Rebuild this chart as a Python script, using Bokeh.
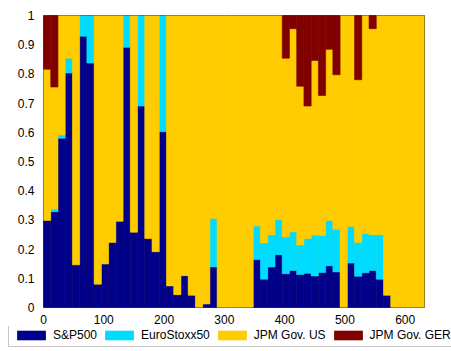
from bokeh.plotting import figure
from bokeh.layouts import column
from bokeh.models import (ColumnDataSource, Legend, LegendItem, FixedTicker,
                          NumeralTickFormatter, Range1d)
from bokeh.embed import file_html
from bokeh.resources import INLINE

# ---- data (portfolio weights per period) ----
bar_step = 12
sp500 = [0.298, 0.328, 0.580, 0.803, 0.146, 0.929, 0.837, 0.080, 0.149, 0.223,
         0.295, 0.891, 0.258, 0.690, 0.236, 0.191, 0.602, 0.074, 0.044, 0.109,
         0.042, 0.000, 0.012, 0.139, 0.000, 0.000, 0.000, 0.000, 0.000, 0.164,
         0.097, 0.139, 0.181, 0.116, 0.127, 0.113, 0.117, 0.108, 0.120, 0.143,
         0.122, 0.000, 0.152, 0.107, 0.119, 0.127, 0.097, 0.042, 0.000, 0.000,
         0.000, 0.000, 0.000]
eurostoxx50 = [0.000, 0.009, 0.011, 0.051, 0.000, 0.071, 0.163, 0.000, 0.000, 0.000,
               0.000, 0.109, 0.000, 0.310, 0.000, 0.000, 0.398, 0.000, 0.000, 0.000,
               0.000, 0.000, 0.000, 0.166, 0.000, 0.000, 0.000, 0.000, 0.000, 0.115,
               0.124, 0.110, 0.120, 0.126, 0.132, 0.101, 0.119, 0.140, 0.127, 0.155,
               0.146, 0.000, 0.125, 0.116, 0.134, 0.122, 0.152, 0.000, 0.000, 0.000,
               0.000, 0.000, 0.000]
jpm_us = [0.518, 0.418, 0.409, 0.146, 0.854, 0.000, 0.000, 0.920, 0.851, 0.777,
          0.705, 0.000, 0.742, 0.000, 0.764, 0.809, 0.000, 0.926, 0.956, 0.891,
          0.958, 1.000, 0.988, 0.695, 1.000, 1.000, 1.000, 1.000, 1.000, 0.721,
          0.779, 0.751, 0.699, 0.612, 0.696, 0.544, 0.454, 0.598, 0.479, 0.586,
          0.529, 1.000, 0.723, 0.557, 0.747, 0.706, 0.751, 0.958, 1.000, 1.000,
          1.000, 1.000, 1.000]
jpm_ger = [0.184, 0.245, 0.000, 0.000, 0.000, 0.000, 0.000, 0.000, 0.000, 0.000,
           0.000, 0.000, 0.000, 0.000, 0.000, 0.000, 0.000, 0.000, 0.000, 0.000,
           0.000, 0.000, 0.000, 0.000, 0.000, 0.000, 0.000, 0.000, 0.000, 0.000,
           0.000, 0.000, 0.000, 0.146, 0.045, 0.242, 0.310, 0.154, 0.274, 0.116,
           0.203, 0.000, 0.000, 0.220, 0.000, 0.045, 0.000, 0.000, 0.000, 0.000,
           0.000, 0.000, 0.000]
series_names = ["S&P500", "EuroStoxx50", "JPM Gov. US", "JPM Gov. GER"]
x_ticks = [0, 100, 200, 300, 400, 500, 600]
y_ticks = [0, 0.1, 0.2, 0.3, 0.4, 0.5, 0.6, 0.7, 0.8, 0.9, 1]

colors = ["#000088", "#00dcff", "#ffcc00", "#800000"]
keys = ["sp", "eu", "us", "ger"]

x_centers = [bar_step * i + bar_step / 2 for i in range(len(sp500))]
data = dict(x=x_centers, sp=sp500, eu=eurostoxx50, us=jpm_us, ger=jpm_ger)
# edge alpha: hide the outline of empty (zero-height) segments
for k in keys:
    data[k + "_la"] = [1.0 if v > 0 else 0.0 for v in data[k]]
source = ColumnDataSource(data)

# ---------------- main chart ----------------
p = figure(width=451, height=326, output_backend="svg", toolbar_location=None,
           x_range=Range1d(0, 632), y_range=Range1d(0, 1),
           min_border_left=43, min_border_right=27, min_border_top=15,
           min_border_bottom=15)
p.frame_align = False

renderers = p.vbar_stack(keys, x="x", width=bar_step, source=source,
                         fill_color=colors, line_color=colors, line_width=0.6,
                         line_alpha=[k + "_la" for k in keys])

p.xgrid.visible = False
p.ygrid.visible = False
p.outline_line_color = "#404040"
p.outline_line_width = 1
p.background_fill_color = "#ffcc00"

for ax in (p.xaxis[0], p.yaxis[0]):
    ax.axis_line_color = None
    ax.major_tick_line_color = None
    ax.minor_tick_line_color = None
    ax.major_label_text_font = "Liberation Sans"
    ax.major_label_text_font_size = "12px"
    ax.major_label_text_color = "#000000"
    ax.major_label_standoff = 3
p.xaxis[0].major_label_standoff = 1

p.xaxis[0].ticker = FixedTicker(ticks=x_ticks)
p.yaxis[0].ticker = FixedTicker(ticks=y_ticks)
p.xaxis[0].formatter = NumeralTickFormatter(format="0")
p.yaxis[0].formatter = NumeralTickFormatter(format="0.[0]")

# ---------------- legend strip ----------------
# the bars are re-used here only for their legend swatches; the x range is
# placed away from the data so nothing else is drawn in this strip
lf = figure(width=451, height=25, output_backend="svg", toolbar_location=None,
            x_axis_type=None, y_axis_type=None, min_border=0,
            x_range=Range1d(-100, -99), y_range=Range1d(0, 1))
lf.frame_align = False
lf.xgrid.visible = False
lf.ygrid.visible = False
lf.outline_line_color = None
lf.background_fill_color = "#ffffff"

legend_renderers = [lf.vbar(x="x", top=k, width=bar_step, source=source,
                            fill_color=c, line_color=None)
                    for k, c in zip(keys, colors)]
items = [LegendItem(label=n, renderers=[r])
         for n, r in zip(series_names, legend_renderers)]
legend = Legend(items=items, orientation="horizontal", location=(8, 4),
                glyph_width=36, glyph_height=12, label_height=12,
                label_standoff=4, spacing=4, padding=4, margin=0,
                label_text_font="Liberation Sans", label_text_font_size="12px",
                label_text_color="#000000",
                border_line_color="#909090", border_line_width=1,
                background_fill_color="#ffffff", background_fill_alpha=1.0)
lf.add_layout(legend, "center")

layout = column(p, lf, spacing=0)
open("out.html", "w").write(file_html(layout, INLINE))
